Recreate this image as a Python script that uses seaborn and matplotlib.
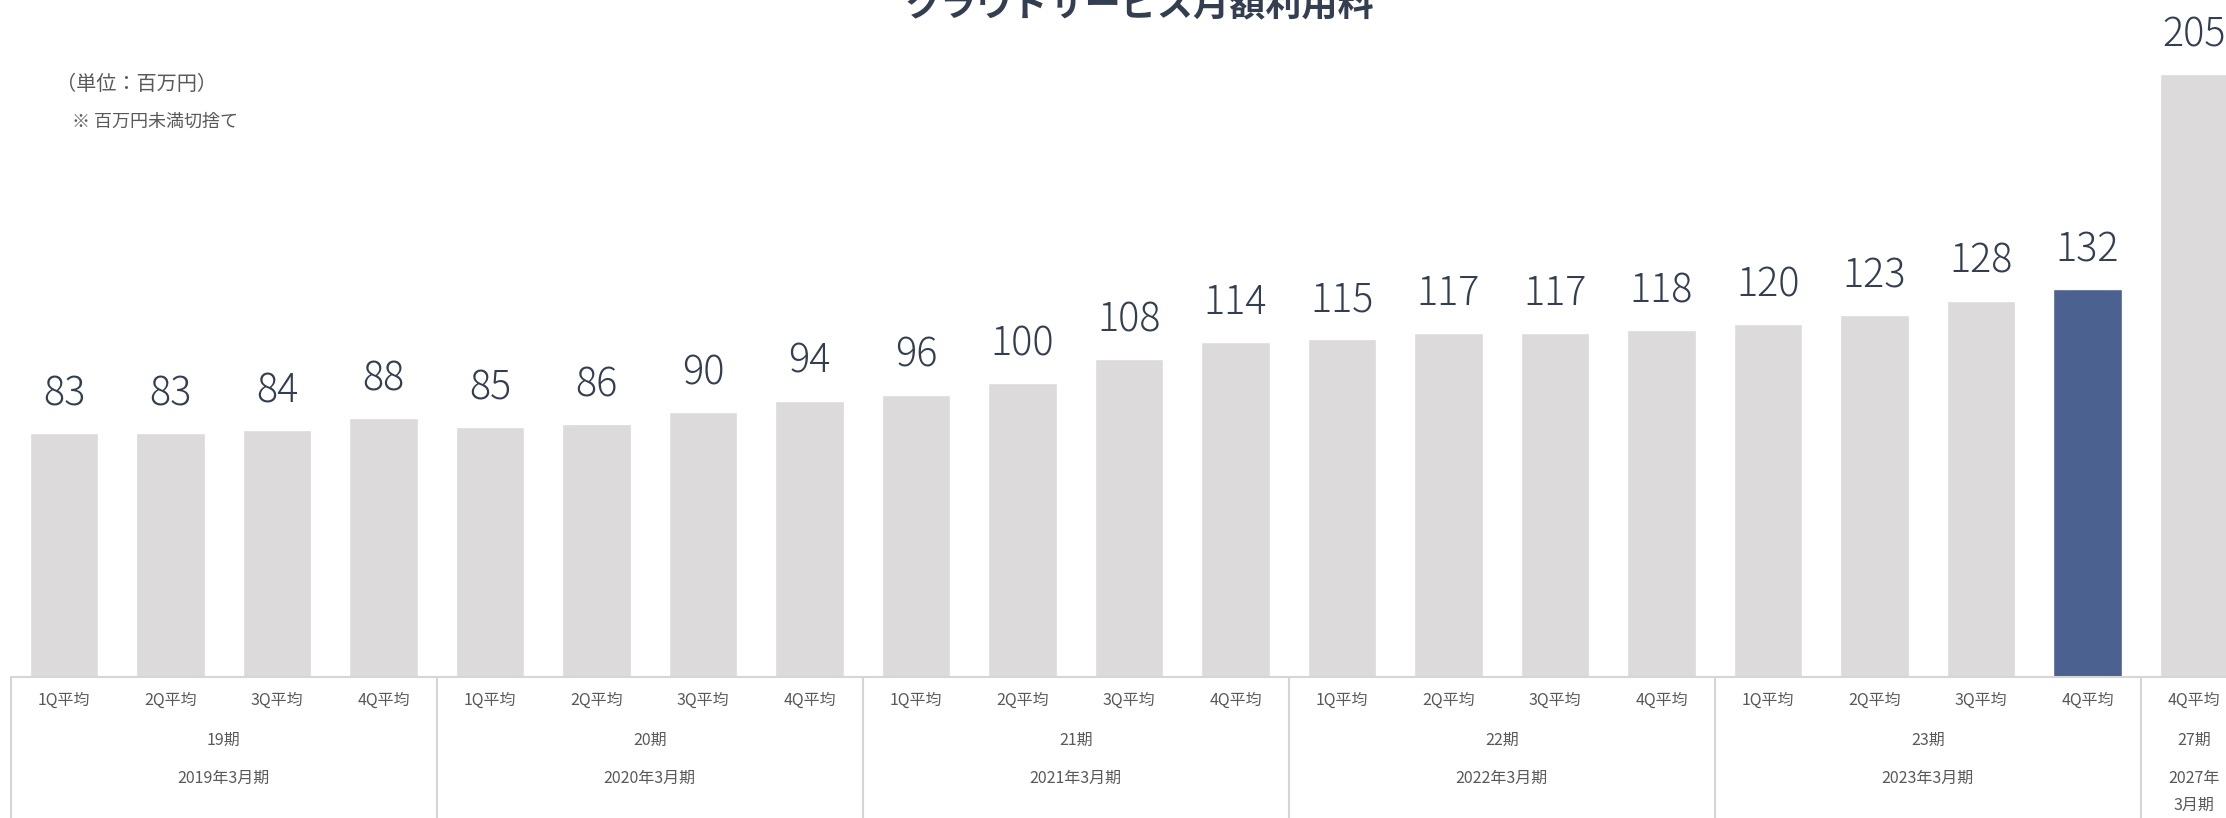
import numpy as np
import pandas as pd
import seaborn as sns
import matplotlib
matplotlib.use('Agg')
import matplotlib.pyplot as plt

# data
values = [83, 83, 84, 88, 85, 86, 90, 94, 96, 100, 108, 114,
          115, 117, 117, 118, 120, 123, 128, 132, 205]
quarters = ['1Q平均', '2Q平均', '3Q平均', '4Q平均'] * 5 + ['4Q平均']
periods = ['19期', '20期', '21期', '22期', '23期', '27期']
fiscal_years = ['2019年3月期', '2020年3月期', '2021年3月期',
                '2022年3月期', '2023年3月期', '2027年\n3月期']
group_sizes = [4, 4, 4, 4, 4, 1]
highlight = 19

GRAY = '#DCDADB'
BLUE = '#4B618F'
TEXT = '#333F50'
SUB = '#595959'
LINE = '#D6D6D6'

sns.set_style('white')
plt.rcParams['font.family'] = ['Noto Sans CJK JP', 'DejaVu Sans']

W, H = 2226, 818
fig = plt.figure(figsize=(W / 100, H / 100), dpi=100)
ax = fig.add_axes([0, 0, 1, 1])

# pixel geometry of the reference
base_px = 677          # baseline from top
ppu = 2.94             # pixels per unit
x0_px, step_px = 64, 106.5

df = pd.DataFrame({'pos': list(range(len(values))), 'value': values})
colors = [BLUE if i == highlight else GRAY for i in df['pos']]
sns.barplot(data=df, x='pos', y='value', hue='pos', palette=colors,
            legend=False, width=0.64, saturation=1, ax=ax)

ax.set_xlim(-x0_px / step_px, (W - x0_px) / step_px)
ax.set_ylim(-(H - base_px) / ppu, base_px / ppu)
ax.axis('off')

def py(px):
    # pixel row from top -> data y
    return (base_px - px) / ppu

for i, v in enumerate(values):
    ax.annotate(str(v), (i, v), xytext=(0, 20), textcoords='offset points',
                ha='center', va='baseline', fontsize=28.5, color=TEXT,
                fontweight='light')

# bottom table
ax.plot([-0.5, len(values) + 1], [0, 0], color=LINE, lw=1.5, clip_on=False)
start = -0.5
bounds = [start]
for n in group_sizes:
    start += n
    bounds.append(start)
for b in bounds[:-1]:
    ax.plot([b, b], [0, py(H + 5)], color=LINE, lw=1.5, clip_on=False)

for i, q in enumerate(quarters):
    ax.text(i, py(700), q, ha='center', va='center', fontsize=11.5, color=SUB)

for k, (p, fy) in enumerate(zip(periods, fiscal_years)):
    cx = (bounds[k] + bounds[k + 1]) / 2
    ax.text(cx, py(740), p, ha='center', va='center', fontsize=11.5, color=SUB)
    if '\n' in fy:
        a, b2 = fy.split('\n')
        ax.text(cx, py(778), a, ha='center', va='center', fontsize=11.5, color=SUB)
        ax.text(cx, py(805), b2, ha='center', va='center', fontsize=11.5, color=SUB)
    else:
        ax.text(cx, py(778), fy, ha='center', va='center', fontsize=11.5, color=SUB)

# title and notes
fig.text(1139 / W, 1 - 6 / H, 'クラウドサービス月額利用料', ha='center', va='center',
         fontsize=26, fontweight='bold', color=TEXT)
fig.text(56 / W, 1 - 84 / H, '（単位：百万円）', ha='left', va='center',
         fontsize=14.5, color=SUB)
fig.text(72 / W, 1 - 122 / H, '※ 百万円未満切捨て', ha='left', va='center',
         fontsize=13, color=SUB)

fig.savefig('out.png', dpi=100)
